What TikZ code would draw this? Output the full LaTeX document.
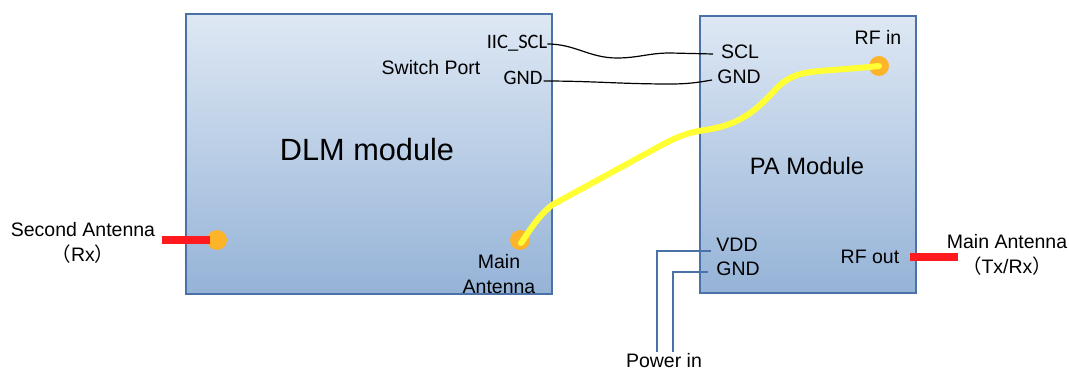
\documentclass[tikz,border=0pt]{standalone}
\usepackage{fontspec}
\setmainfont{Liberation Sans}
\newfontfamily\cjk{Noto Sans CJK SC}
\newfontfamily\narrowfont{Carlito}
\usepackage{xcolor}
\usetikzlibrary{positioning}

\definecolor{boxtop}{HTML}{DEE8F4}
\definecolor{boxbottom}{HTML}{95B3D7}
\definecolor{boxline}{HTML}{4A72A6}
\definecolor{pinorange}{HTML}{FDB42B}
\definecolor{cableyellow}{HTML}{FFFF33}
\definecolor{stubred}{HTML}{FF1A1F}

\begin{document}
\begin{tikzpicture}[
    x=1pt, y=-1pt,
    module/.style={rectangle, draw=boxline, line width=1.4pt, top color=boxtop, bottom color=boxbottom, outer sep=0pt},
    pin/.style={circle, fill=pinorange, minimum size=20pt, inner sep=0pt},
    label/.style={inner sep=0pt, align=center, font=\fontsize{19.5}{24.5}\selectfont},
    portlabel/.style={inner sep=0pt, font=\narrowfont\fontsize{20.5}{24}\selectfont},
    title/.style={inner sep=0pt, align=center},
    wire/.style={black, line width=1.2pt},
    power/.style={boxline, line width=1.3pt},
    cable/.style={cableyellow, line width=6pt, line cap=round, line join=round},
    stub/.style={stubred, line width=8pt},
]
\useasboundingbox (0,0) rectangle (1069,371);

% Modules
\node[module, minimum width=366pt, minimum height=280pt] (dlm) at (369,154) {};
\node[module, minimum width=216pt, minimum height=277pt] (pa) at (808,154.5) {};
\node[title, font=\fontsize{30.7}{36}\selectfont] (dlmtitle) at (367,150) {DLM module};
\node[title, font=\fontsize{23.7}{28}\selectfont] (patitle) at (807,166) {PA Module};

% Antenna pins
\node[pin] (second) at (217,240) {};
\node[pin] (mainpin) at (520,240) {};
\node[pin] (rfin) at (879,66) {};

% Free ends
\coordinate (secondend) at (162,240);
\coordinate (secondtip) at (210,240);
\coordinate (rfoutstart) at (910,257);
\coordinate (rfoutend) at (958,257);
\coordinate (cablestart) at (521,243);
\coordinate (cableend) at (879,66);
\coordinate (vddin) at (657,352);
\coordinate (gndin) at (673,352);

% Labels
\node[label] (switchport) at (431,68) {Switch Port};
\node[portlabel] (iicscl) at (517,43) {IIC\_SCL};
\node[portlabel] (dlmgnd) at (523,78) {GND};
\node[label] (scl) at (740,52) {SCL};
\node[label] (pagnd) at (739,77) {GND};
\node[label] (rfinlabel) at (878,37) {RF in};
\node[label] (vdd) at (737,245) {VDD};
\node[label] (powergnd) at (738,269) {GND};
\node[label] (rfout) at (870,257) {RF out};
\node[label] (mainlabel) at (499,274) {Main\\Antenna};
\node[label] (secondlabel) at (83,243) {Second Antenna\\{\cjk （}Rx{\cjk ）}};
\node[label] (mainantenna) at (1007,255) {Main Antenna\\{\cjk （}Tx/Rx{\cjk ）}};
\node[label] (powerin) at (664,361) {Power in};

% Connectors
\draw[stub] (secondend) -- (secondtip);
\draw[stub] (rfoutstart) -- (rfoutend);
\draw[cable] (cablestart) to[out=55, in=220] (552,205) -- (660,146) to[out=28, in=188] (705,130) to[out=8, in=228] (775,90) to[out=48, in=185] (820,71) to[out=5, in=186] (cableend);
\draw[wire] (iicscl.east) ++(0,1) to[out=0, in=180] (617,58) to[out=0, in=180] (670,53) -- (713,54);
\draw[wire] (dlmgnd.east) ++(1,3) to[out=0, in=180] (670,84) to[out=0, in=190] (712,80);
\draw[power] (vdd.west) ++(-5,6) -| (vddin);
\draw[power] (powergnd.west) ++(-8,3) -| (gndin);

\end{tikzpicture}
\end{document}
